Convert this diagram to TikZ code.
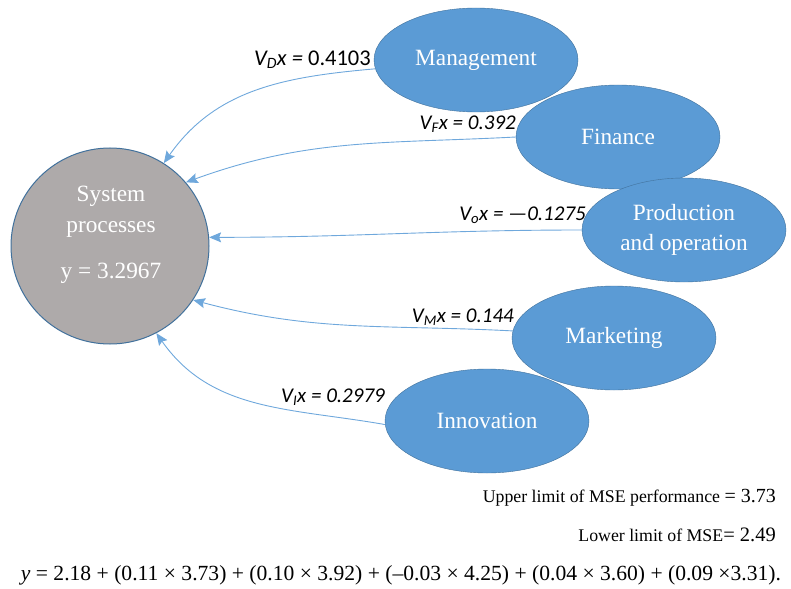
\documentclass[tikz,border=0pt]{standalone}
\usepackage{fontspec}
\setmainfont{Liberation Serif}
\newfontfamily\calib{Carlito}
\usetikzlibrary{arrows.meta}
\usetikzlibrary{positioning}
\usetikzlibrary{shapes.geometric}
\definecolor{nodeblue}{HTML}{5B9BD5}
\definecolor{rimblue}{HTML}{41719C}
\definecolor{arrowblue}{HTML}{6FA8DC}
\definecolor{sysgray}{HTML}{AEAAAA}
\tikzset{
    factor/.style={
        ellipse,
        draw=rimblue,
        fill=nodeblue,
        text=white,
        minimum width=204pt,
        minimum height=104pt,
        inner sep=0pt,
        align=center,
        font=\fontsize{23.3}{30}\selectfont},
    coef/.style={
        anchor=east,
        inner sep=0pt,
        font=\calib\fontsize{21}{24}\selectfont},
    every edge/.style={
        draw=arrowblue,
        -{Stealth[length=12pt,width=10pt,inset=2pt]},
        line width=0.9pt}}

\begin{document}
\begin{tikzpicture}[x=1pt,y=1pt]
    \useasboundingbox (0,0) rectangle (791,-588);
    \node[ellipse, draw=rimblue, fill=sysgray, line width=1pt,
          minimum width=198pt, minimum height=196pt] (sys) at (110,-246) {};
    \node[text=white, align=center, inner sep=0pt,
          font=\fontsize{23.3}{31}\selectfont] (sysname) at (111,-234.5)
          {System\\processes\\[15pt]y = 3.2967};
    \node[factor] (man) at (476,-60) {Management};
    \node[factor] (fin) at (618,-137) {Finance};
    \node[factor] (prod) at (684,-230) {Production\\and operation};
    \node[factor] (mark) at (614,-338) {Marketing};
    \node[factor] (inno) at (487,-421) {Innovation};
    % influence of each factor
    \draw (man.185) edge[out=185,in=55] (sys.57);
    \draw (fin.180) edge[out=183,in=20] (sys.40);
    \draw (prod.180) edge[out=180,in=0] (sys.5);
    \draw (mark.176) edge[out=177,in=-15] (sys.-33);
    \draw (inno.182) edge[out=170,in=-55] (sys.-62);
    \node[coef, font=\calib\fontsize{22.5}{24}\selectfont] (cD) at (371,-60)
        {\itshape V\textsubscript{D}x =\upshape{} 0.4103};
    \node[coef] (cF) at (516,-124) {\itshape V\textsubscript{F}x = 0.392};
    \node[coef] (cO) at (586,-215) {\itshape V\textsubscript{o}x = —0.1275};
    \node[coef] (cM) at (514,-317) {\itshape V\textsubscript{M}x = 0.144};
    \node[coef] (cI) at (385,-397) {\itshape V\textsubscript{I}x = 0.2979};
    % limits and model
    \node[anchor=east, inner sep=0pt] (upper) at (776,-498)
        {\fontsize{17.8}{20}\selectfont Upper limit of MSE performance
         {\fontsize{20}{22}\selectfont = 3.73}};
    \node[anchor=east, inner sep=0pt] (lower) at (776,-535)
        {\fontsize{17.8}{20}\selectfont Lower limit of MSE{\fontsize{20.5}{22}\selectfont= 2.49}};
    \node[inner sep=0pt, font=\fontsize{21.6}{24}\selectfont] (model) at (401,-575)
        {\textit{y} = 2.18 + (0.11 × 3.73) + (0.10 × 3.92) + (–0.03 × 4.25) + (0.04 × 3.60) + (0.09 ×3.31).};
\end{tikzpicture}
\end{document}
